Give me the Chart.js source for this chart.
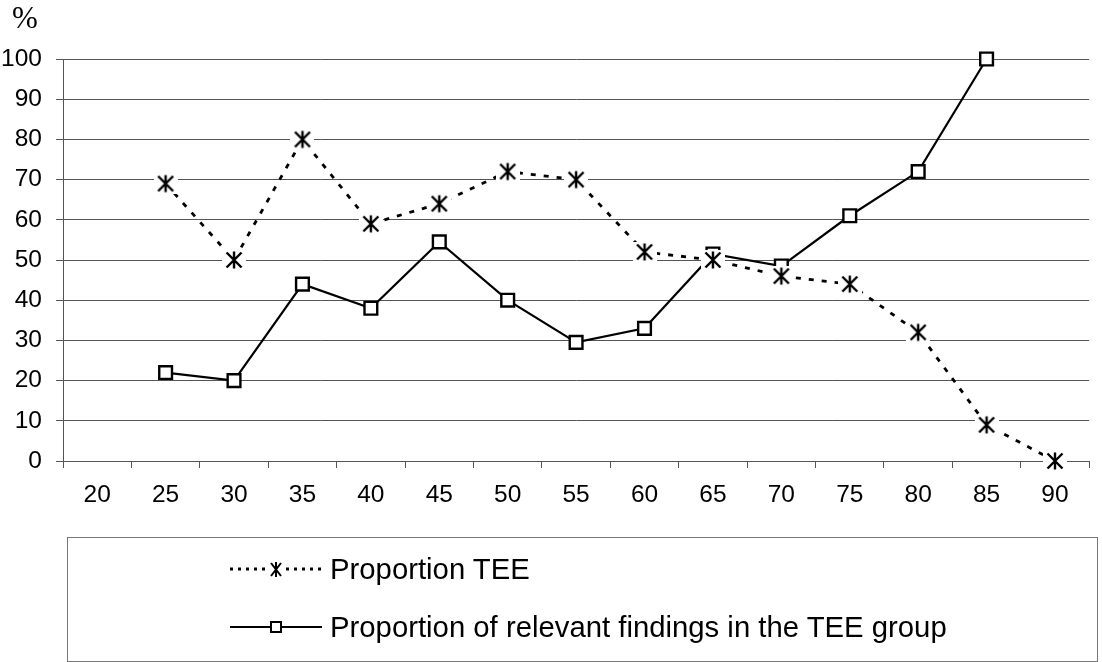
<!DOCTYPE html>
<html>
<head>
<meta charset="utf-8">
<script src="https://cdn.jsdelivr.net/npm/chart.js@4.4.1/dist/chart.umd.min.js"></script>
<style>
  html, body { margin: 0; padding: 0; background: #fff; }
  #wrap { position: relative; width: 1102px; height: 662px; overflow: hidden; }
  #c { position: absolute; left: 0; top: 0; }
  #pct { position: absolute; left: 12px; top: 1px; font-family: "Liberation Serif", "Times New Roman", serif; font-size: 31px; line-height: 34px; color: #000; }
  #legend { position: absolute; left: 67px; top: 537px; width: 1031px; height: 125px; border: 1px solid #777; box-sizing: border-box; }
  .row { position: absolute; left: 0; height: 34px; width: 100%; }
  .row svg { position: absolute; left: 160px; top: 0; }
  .row span { position: absolute; left: 262px; top: 0; line-height: 34px; font-family: "Liberation Sans", Arial, sans-serif; font-size: 29.3px; color: #000; white-space: nowrap; }
</style>
</head>
<body>
<div id="wrap">
  <canvas id="c" width="1102" height="662"></canvas>
  <div id="pct">%</div>
  <div id="legend">
    <div class="row" id="row1" style="top:14px;">
      <svg width="96" height="34" viewBox="0 0 96 34">
        <line x1="2" y1="17" x2="94" y2="17" stroke="#000" stroke-width="3" stroke-dasharray="3,5"/>
        <rect x="39" y="8" width="18" height="18" fill="#fff"/>
        <line x1="43" y1="11" x2="53" y2="24" stroke="#000" stroke-width="2"/>
        <line x1="53" y1="11" x2="43" y2="24" stroke="#000" stroke-width="2"/>
        <line x1="48" y1="10" x2="48" y2="25" stroke="#000" stroke-width="2"/>
      </svg>
      <span></span>
    </div>
    <div class="row" id="row2" style="top:72px;">
      <svg width="96" height="34" viewBox="0 0 96 34">
        <line x1="2" y1="17" x2="94" y2="17" stroke="#000" stroke-width="2"/>
        <rect x="43" y="12" width="10" height="10" fill="#fff" stroke="#000" stroke-width="2"/>
      </svg>
      <span></span>
    </div>
  </div>
</div>
<script>
// ---- data ----
const categories = ['20','25','30','35','40','45','50','55','60','65','70','75','80','85','90'];
const seriesNames = ['Proportion TEE', 'Proportion of relevant findings in the TEE group'];
const proportionTEE = [null, 69, 50, 80, 59, 64, 72, 70, 52, 50, 46, 44, 32, 9, 0];
const relevantFindings = [null, 22, 20, 44, 38, 54.5, 40, 29.5, 33, 51.5, 48.5, 61, 72, 100, null];
const yTicks = [0, 10, 20, 30, 40, 50, 60, 70, 80, 90, 100];

document.querySelector('#row1 span').textContent = seriesNames[0];
document.querySelector('#row2 span').textContent = seriesNames[1];

// star marker (X plus vertical bar) with white background
function makeStar() {
  const cv = document.createElement('canvas');
  cv.width = 24; cv.height = 20;
  const g = cv.getContext('2d');
  g.fillStyle = '#fff';
  g.fillRect(0, 0, 24, 20);
  g.strokeStyle = '#000';
  g.lineWidth = 2.4;
  g.beginPath();
  g.moveTo(4.5, 2.5); g.lineTo(19.5, 17.5);
  g.moveTo(19.5, 2.5); g.lineTo(4.5, 17.5);
  g.moveTo(12, 1.5); g.lineTo(12, 18.5);
  g.stroke();
  return cv;
}
const starImg = makeStar();

const FONT = "'Liberation Sans', Arial, sans-serif";
const gridColor = '#555';

new Chart(document.getElementById('c'), {
  type: 'line',
  data: {
    labels: categories,
    datasets: [
      {
        label: seriesNames[0],
        data: proportionTEE,
        borderColor: '#000',
        borderWidth: 2.8,
        borderDash: [5, 8],
        pointStyle: starImg,
        pointRadius: 10,
        pointHoverRadius: 10,
        fill: false,
        tension: 0,
        clip: false
      },
      {
        label: seriesNames[1],
        data: relevantFindings,
        borderColor: '#000',
        borderWidth: 2.2,
        pointStyle: 'rect',
        pointRadius: 9,
        pointHoverRadius: 9,
        pointBackgroundColor: '#fff',
        pointBorderColor: '#000',
        pointBorderWidth: 2.4,
        fill: false,
        tension: 0,
        clip: false
      }
    ]
  },
  options: {
    responsive: false,
    animation: false,
    events: [],
    layout: { padding: { top: 59, right: 2, bottom: 140, left: 0 } },
    plugins: { legend: { display: false }, tooltip: { enabled: false }, title: { display: false } },
    scales: {
      x: {
        type: 'category',
        offset: true,
        afterFit: (s) => { s.height = 61; },
        grid: { offset: true, drawOnChartArea: false, drawTicks: true, tickLength: 7, color: gridColor, lineWidth: 1 },
        border: { display: true, color: gridColor, width: 1 },
        ticks: { color: '#000', font: { family: FONT, size: 24.5 }, padding: 13, maxRotation: 0, autoSkip: false }
      },
      y: {
        min: 0, max: 100,
        afterFit: (s) => { s.width = 63; },
        afterBuildTicks: (s) => { s.ticks = yTicks.map(v => ({ value: v })); },
        grid: { color: gridColor, lineWidth: 1, drawTicks: true, tickLength: 7 },
        border: { display: true, color: gridColor, width: 1 },
        ticks: { color: '#000', font: { family: FONT, size: 24.5 }, padding: 14 }
      }
    }
  }
});
</script>
</body>
</html>
